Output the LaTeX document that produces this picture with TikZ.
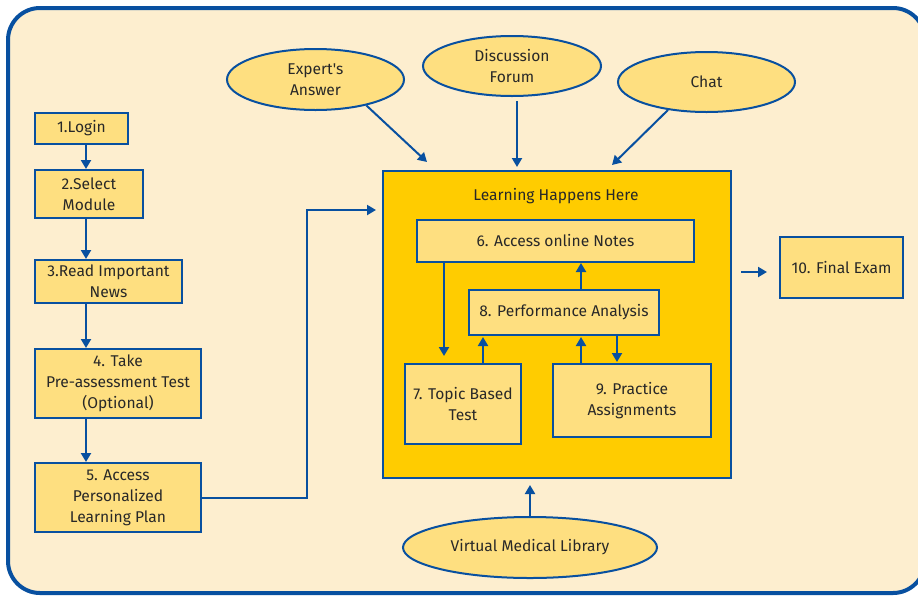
\documentclass[tikz,border=0pt]{standalone}
\usepackage{fontspec}
\setmainfont{Fira Sans}
\newfontfamily\plainfs{Fira Sans}
\usetikzlibrary{shapes.geometric,arrows.meta,calc}
\definecolor{cream}{RGB}{253,238,207}
\definecolor{pale}{RGB}{254,223,128}
\definecolor{gold}{RGB}{255,204,0}
\definecolor{bblue}{RGB}{8,80,160}
\definecolor{ink}{RGB}{40,40,40}
\tikzset{
  box/.style={draw=bblue, line width=2pt, fill=pale, rectangle, inner sep=0pt, align=center, text=ink, font=\fontsize{15.6}{21}\selectfont},
  oval/.style={draw=bblue, line width=2pt, fill=pale, ellipse, inner sep=0pt, align=center, text=ink, font=\fontsize{15.6}{21}\selectfont},
  arr/.style={draw=bblue, line width=2pt, -{Triangle[length=9pt,width=10pt]}},
}
\begin{document}
\begin{tikzpicture}[x=1pt,y=-1pt]
\useasboundingbox (0,0) rectangle (918,595);
\fill[white] (0,0) rectangle (918,595);
\draw[bblue, line width=4pt, fill=cream, rounded corners=32pt] (8,8) rectangle (925,593);

% left column
\node[box, minimum width=93, minimum height=31] (n1) at (81.5,128.5) {1.Login};
\node[box, minimum width=108, minimum height=48] (n2) at (89,194) {2.Select\\Module};
\node[box, minimum width=147, minimum height=43] (n3) at (108.5,281.5) {3.Read Important\\News};
\node[box, minimum width=166, minimum height=69] (n4) at (118,383.5) {4. Take\\Pre-assessment Test\\(Optional)};
\node[box, minimum width=166, minimum height=69] (n5) at (118,497.5) {5. Access\\Personalized\\Learning Plan};

% learning area
\node[draw=bblue, line width=2pt, fill=gold, rectangle, inner sep=0pt, minimum width=348, minimum height=307] (L) at (557,324.5) {};
\node[text=ink, font=\fontsize{15.6}{21}\selectfont] (Lt) at (556,196) {Learning Happens Here};
\node[box, minimum width=277, minimum height=42] (n6) at (555.5,241) {6. Access online Notes};
\node[box, minimum width=190, minimum height=45] (n8) at (564,312.5) {8. Performance Analysis};
\node[box, minimum width=116, minimum height=80] (n7) at (463,404) {7. Topic Based\\Test};
\node[box, minimum width=158, minimum height=73] (n9) at (632,400.5) {9. Practice\\Assignments};
\node[box, minimum width=123, minimum height=61] (n10) at (841.5,267.5) {10. Final Exam};

% ellipses
\node[oval, minimum width=177, minimum height=61] (exp) at (315.5,79.5) {Expert{\plainfs'}s\\Answer};
\node[oval, minimum width=178, minimum height=60] (disc) at (512,66) {Discussion\\Forum};
\node[oval, minimum width=177, minimum height=60] (chat) at (706.5,82) {Chat};
\node[oval, minimum width=254, minimum height=61] (vml) at (530,547.5) {Virtual Medical Library};

% left column arrows
\draw[arr] ([xshift=4.5pt]n1.south) -- ([xshift=4.5pt]n1.south |- n2.north);
\draw[arr] ([xshift=-3pt]n2.south) -- ([xshift=-3pt]n2.south |- n3.north);
\draw[arr] ([xshift=-22.5pt]n3.south) -- ([xshift=-22.5pt]n3.south |- n4.north);
\draw[arr] ([xshift=-32pt]n4.south) -- ([xshift=-32pt]n4.south |- n5.north);
\draw[arr, shorten >=6pt] (n5.east) -- ++(105,0) |- ([yshift=114.5pt]L.west);

% ellipse arrows
\draw[arr] (exp.-27) -- ([xshift=45pt,yshift=8pt]L.north west);
\draw[arr, shorten <=4pt, shorten >=3pt] ([xshift=5pt]disc.south) -- ([xshift=5pt]disc.south |- L.north);
\draw[arr] (chat.216) -- ([xshift=-120pt,yshift=5pt]L.north east);
\draw[arr, shorten >=6pt] ([xshift=0pt]vml.north) -- (vml.north |- L.south);

% inner arrows
\draw[arr, shorten >=7pt] ([xshift=-111.5pt]n6.south) -- ([xshift=-111.5pt]n6.south |- n7.north);
\draw[arr, shorten >=1pt] ([xshift=20pt]n7.north) -- ([xshift=20pt]n7.north |- n8.south);
\draw[arr] ([xshift=17pt]n8.north) -- ([xshift=17pt]n8.north |- n6.south);
\draw[arr, shorten >=1pt] ([xshift=-51pt]n9.north) -- ([xshift=-51pt]n9.north |- n8.south);
\draw[arr, shorten >=1pt] ([xshift=53pt]n8.south) -- ([xshift=53pt]n8.south |- n9.north);

% to final exam
\draw[arr, shorten <=9pt, shorten >=12pt] ([yshift=-4.5pt]n10.west -| L.east) -- ([yshift=-4.5pt]n10.west);
\end{tikzpicture}
\end{document}
